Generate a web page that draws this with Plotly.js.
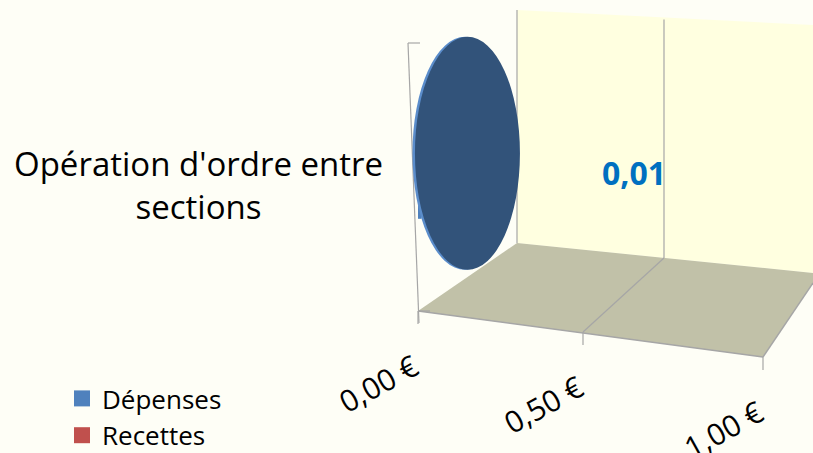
<!DOCTYPE html>
<html><head><meta charset="utf-8">
<script src="https://cdn.plot.ly/plotly-3.0.1.min.js"></script>
<style>html,body{margin:0;padding:0;background:#FEFEF6;}</style>
</head><body>
<div id="chart" style="width:813px;height:453px;"></div>
<script>
// ---- data ----
const categories = ["Opération d'ordre entre<br>sections"];
const seriesNames = ["Dépenses", "Recettes"];
const depenses = [0.01];
const recettes = [0];
const tickVals = [0, 0.5, 1];
const tickText = ["0,00 €", "0,50 €", "1,00 €"];

// ---- helpers (pixel -> paper) ----
const W = 813, H = 453;
const px = x => x / W;
const py = y => 1 - y / H;
// perspective projection of value on the floor front edge
const frontX = v => 418 + 315 * v + 30 * v * v;
const frontY = v => 311 + 38 * v + 8 * v * v;
// back wall baseline
const backX = v => 517 + 292 * v + 4 * v * v;
const backYb = v => 243 + 30 * v;
const backYt = v => 10 + 15 * v;

const gridCol = '#A6A6A6';
const shapes = [];
function poly(pts, fill, lineCol, lw) {
  const d = pts.map((p, i) => (i ? 'L' : 'M') + px(p[0]) + ',' + py(p[1])).join(' ') + ' Z';
  shapes.push({type: 'path', xref: 'paper', yref: 'paper', path: d, fillcolor: fill,
    line: {color: lineCol || 'rgba(0,0,0,0)', width: lw || 0}, layer: 'below'});
}
function seg(a, b, col, w) {
  shapes.push({type: 'line', xref: 'paper', yref: 'paper', x0: px(a[0]), y0: py(a[1]), x1: px(b[0]), y1: py(b[1]),
    line: {color: col, width: w || 1.2}, layer: 'below'});
}
// back wall
poly([[517, 10], [813, 25], [813, 273], [517, 243]], '#FFFFE0');
// floor
poly([[418, 311], [517, 243], [813, 273], [813, 283], [763, 357]], '#C1C1A8');
// back-wall left edge
seg([517, 10], [517, 243], gridCol, 1.2);
// gridlines (walls + floor) and ticks from tick values
tickVals.forEach(v => {
  if (v > 0 && v < 1) {
    seg([backX(v), backYt(v) + 2], [backX(v), backYb(v)], gridCol, 1.2);
    seg([backX(v), backYb(v)], [frontX(v), frontY(v)], gridCol, 1.2);
  }
  seg([frontX(v), frontY(v)], [frontX(v), frontY(v) + 13], gridCol, 1.2);
});
// floor front & right edges
seg([418, 311], [763, 357], gridCol, 1.4);
seg([763, 357], [813, 283], gridCol, 1.4);
// category axis line
seg([408, 43], [419, 323], gridCol, 1.2);
seg([408, 43], [420, 43], gridCol, 1.2);
seg([419, 311], [430, 311], gridCol, 1.2);

// cylinder cap (anchored on data value)
shapes.push({type: 'circle', xref: 'x', yref: 'y', xsizemode: 'pixel', ysizemode: 'pixel',
  xanchor: depenses[0], yanchor: 0, x0: -9, x1: 96, y0: -85, y1: 148,
  fillcolor: '#5B8DCB', line: {width: 0}, layer: 'above'});
shapes.push({type: 'circle', xref: 'x', yref: 'y', xsizemode: 'pixel', ysizemode: 'pixel',
  xanchor: depenses[0], yanchor: 0, x0: -6.5, x1: 98.5, y0: -85, y1: 148,
  fillcolor: '#32537A', line: {width: 0}, layer: 'above'});

const annotations = [];
// category label
annotations.push({xref: 'paper', yref: 'y', x: px(198), y: 0, text: categories[0], showarrow: false,
  align: 'center', font: {family: 'Open Sans', size: 33, color: '#000'}, xanchor: 'center', yanchor: 'middle'});
// data label
annotations.push({xref: 'x', yref: 'y', x: depenses[0], y: 0, xshift: 213, yshift: 12,
  text: '<b>' + depenses[0].toFixed(2).replace('.', ',') + '</b>', showarrow: false,
  font: {family: 'Open Sans', size: 32, color: '#0070C0'}});
// axis tick labels (rotated, following perspective)
tickVals.forEach((v, i) => {
  annotations.push({xref: 'paper', yref: 'paper', x: px(frontX(v) - 40), y: py(frontY(v) + 72),
    text: tickText[i], showarrow: false, textangle: -29,
    font: {family: 'Open Sans', size: 30, color: '#000'}, xanchor: 'center', yanchor: 'middle'});
});

const traces = [
  {type: 'bar', orientation: 'h', name: seriesNames[0], x: depenses, y: [0], marker: {color: '#4F81BD'},
   width: 0.3, showlegend: false, hoverinfo: 'skip'},
  {type: 'bar', orientation: 'h', name: seriesNames[1], x: recettes, y: [0], marker: {color: '#C0504D'},
   width: 0.3, showlegend: false, hoverinfo: 'skip'},
  // legend keys (no drawn points)
  {type: 'scatter', mode: 'markers', name: seriesNames[0], x: [null], y: [null], legendgroup: 'a',
   marker: {symbol: 'square', size: 18, color: '#4F81BD'}, hoverinfo: 'skip'},
  {type: 'scatter', mode: 'markers', name: seriesNames[1], x: [null], y: [null], legendgroup: 'b',
   marker: {symbol: 'square', size: 18, color: '#C0504D'}, hoverinfo: 'skip'}
];

const layout = {
  width: W, height: H,
  margin: {l: 0, r: 0, t: 0, b: 0, autoexpand: false},
  paper_bgcolor: '#FEFEF6', plot_bgcolor: 'rgba(0,0,0,0)',
  barmode: 'overlay',
  xaxis: {domain: [300 / W, 1], range: [-118 / 345, 395 / 345], visible: false, fixedrange: true},
  yaxis: {domain: [0, 1], range: [-1.184, 0.816], visible: false, fixedrange: true},
  showlegend: true,
  legend: {x: px(62), y: py(375), xanchor: 'left', yanchor: 'top', bgcolor: 'rgba(0,0,0,0)',
    font: {family: 'Open Sans', size: 26, color: '#000'}, tracegroupgap: 0, itemwidth: 30, traceorder: 'grouped'},
  shapes: shapes,
  annotations: annotations
};
Plotly.newPlot('chart', traces, layout, {displayModeBar: false, staticPlot: true});
</script>
</body></html>
